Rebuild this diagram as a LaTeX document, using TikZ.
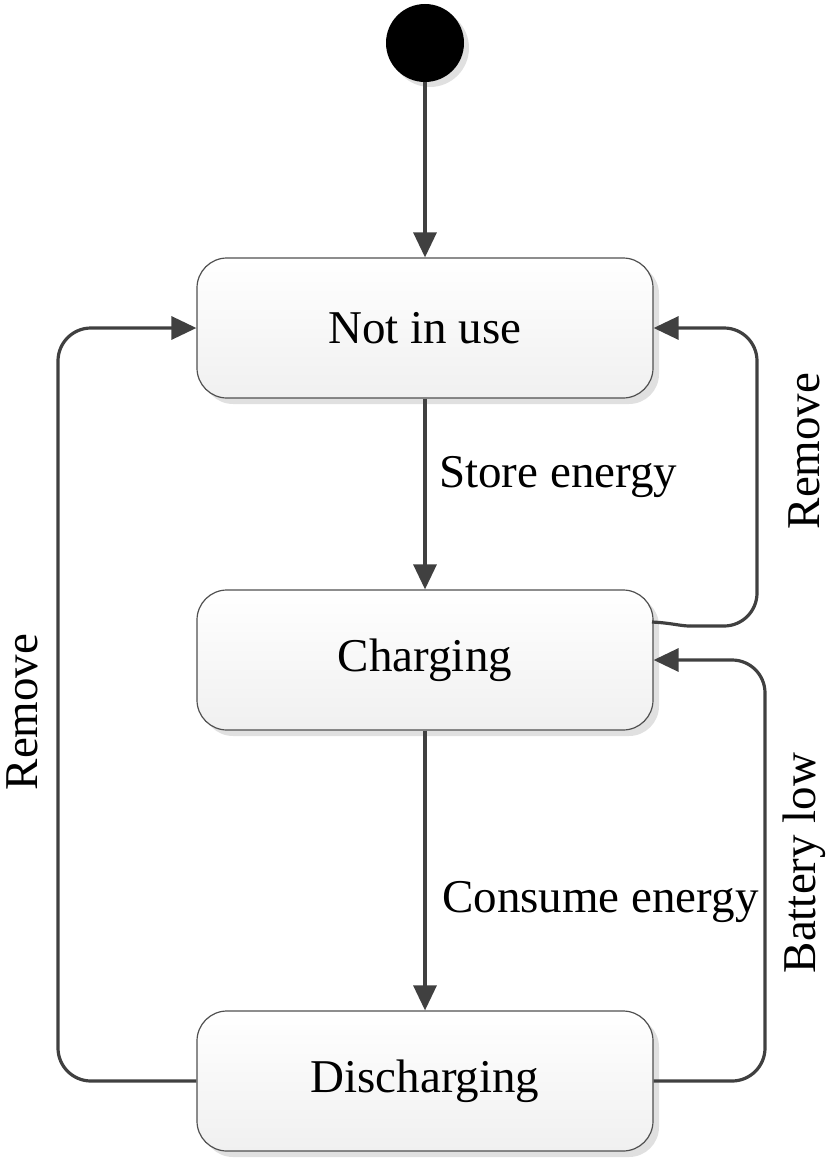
\documentclass[tikz,border=0pt]{standalone}
\usepackage{fontspec}
\setmainfont{Liberation Serif}
\usetikzlibrary{arrows.meta,shadows}
\definecolor{linec}{HTML}{404040}
\definecolor{boxline}{HTML}{505050}
\definecolor{shade}{HTML}{E6E6E6}
\begin{document}
\begin{tikzpicture}[x=1pt,y=-1pt,
  state/.style={draw=boxline, line width=1.2pt, rounded corners=30pt,
    minimum width=456pt, minimum height=140pt, top color=white, bottom color=shade!60,
    drop shadow={shadow xshift=6pt, shadow yshift=-6pt, fill=black!12, opacity=1},
    font=\fontsize{47}{56}\selectfont, inner sep=0pt},
  conn/.style={draw=linec, line width=3.2pt, -{Triangle[length=25pt,width=23pt]}},
  loop/.style={conn, rounded corners=33pt},
  lbl/.style={font=\fontsize{47}{56}\selectfont, inner sep=0pt}]
\useasboundingbox (0,0) rectangle (833,1161);
\fill[black!12] (430,48) circle (39);
\node[circle, fill=black, minimum size=78pt, inner sep=0pt] (init) at (425,43) {};
\node[state] (ni) at (425,328) {Not in use};
\node[state] (ch) at (425,660) {Charging};
\node[state] (dis) at (425,1081) {Discharging};
\draw[conn] (init) -- (ni);
\draw[conn] (ni) -- (ch);
\draw[conn] (ch) -- (dis);
\node[lbl, anchor=west] (l1) at (439,477) {Store energy};
\node[lbl, anchor=west] (l2) at (442,902) {Consume energy};
% left loop
\coordinate (a1) at (58,1081);
\coordinate (a2) at (58,328);
\draw[loop] (dis.west) -- (a1) -- (a2) -- (ni.west);
\node[lbl, rotate=90] (l3) at (22,712) {Remove};
% right upper loop
\coordinate (b0) at (652,622);
\coordinate (b1) at (690,626);
\coordinate (b2) at (757,626);
\coordinate (b3) at (757,328);
\draw[draw=linec, line width=3.2pt] (b0) .. controls (672,623) and (680,626) .. (b1);
\draw[loop] (b1) -- (b2) -- (b3) -- (ni.east);
\node[lbl, rotate=90] (l4) at (804,451) {Remove};
% right lower loop
\coordinate (c1) at (765,1081);
\coordinate (c2) at (765,660);
\draw[loop] (dis.east) -- (c1) -- (c2) -- (ch.east);
\node[lbl, rotate=90] (l5) at (804,863) {Battery low};
\end{tikzpicture}
\end{document}
